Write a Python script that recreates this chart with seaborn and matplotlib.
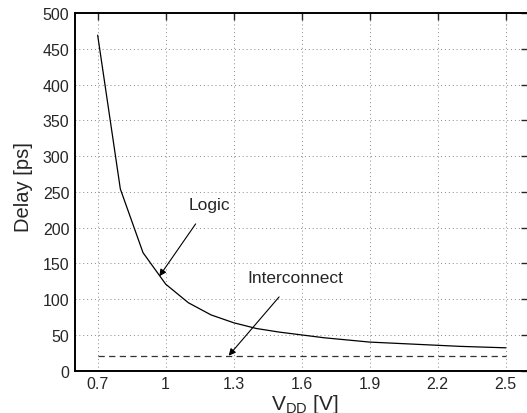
import matplotlib
matplotlib.use('Agg')
import matplotlib.pyplot as plt
import seaborn as sns
import pandas as pd

vdd = [0.7, 0.8, 0.9, 1.0, 1.1, 1.2, 1.3, 1.4, 1.5, 1.6, 1.7, 1.8, 1.9, 2.0, 2.1, 2.2, 2.3, 2.4, 2.5]
logic_delay = [469, 254, 165, 121, 95, 78, 67, 59, 54, 50, 46, 43, 40, 38.5, 37, 35.5, 34, 33, 32]
interconnect_delay = [21] * len(vdd)
xticks = [0.7, 1.0, 1.3, 1.6, 1.9, 2.2, 2.5]
xtick_labels = ['0.7', '1', '1.3', '1.6', '1.9', '2.2', '2.5']
yticks = list(range(0, 501, 50))

df = pd.DataFrame({'VDD': vdd, 'Logic': logic_delay, 'Interconnect': interconnect_delay})

sns.set_style('white')
plt.rcParams['font.family'] = ['Liberation Sans', 'DejaVu Sans']
plt.rcParams['mathtext.fontset'] = 'custom'
plt.rcParams['mathtext.rm'] = 'Liberation Sans'
plt.rcParams['mathtext.it'] = 'Liberation Sans'

fig = plt.figure(figsize=(5.27, 4.14), dpi=100)
ax = fig.add_axes([75 / 527, 1 - 371.7 / 414, 453.4 / 527, 357.7 / 414])

sns.lineplot(data=df, x='VDD', y='Logic', ax=ax, color='black', lw=0.9)
sns.lineplot(data=df, x='VDD', y='Interconnect', ax=ax, color='#333333', lw=0.9, linestyle=(0, (5, 3.5)))

ax.set_xlim(0.6, 2.6)
ax.set_ylim(0, 500)
ax.set_xticks(xticks)
ax.set_xticklabels(xtick_labels)
ax.set_yticks(yticks)
ax.tick_params(direction='in', length=5, width=1, labelsize=11.5, top=True, right=True, pad=4)
ax.grid(True, linestyle=(0, (1, 3)), color='#888888', lw=0.7)
for s in ax.spines.values():
    s.set_linewidth(1.4)
    s.set_color('black')

ax.set_ylabel('Delay [ps]', fontsize=14.5)
ax.yaxis.set_label_coords(-0.093, 0.517)
ax.set_xlabel(r'V$_{\mathrm{DD}}$ [V]', fontsize=15)
ax.xaxis.set_label_coords(0.507, -0.06)

ax.annotate('Logic', xy=(0.972, 132), xytext=(1.193, 233), ha='center', va='center', fontsize=12.5,
            arrowprops=dict(arrowstyle='-|>', color='black', lw=0.8, shrinkA=8, shrinkB=0, mutation_scale=10))
ax.annotate('Interconnect', xy=(1.278, 21), xytext=(1.573, 130), ha='center', va='center', fontsize=12.5,
            arrowprops=dict(arrowstyle='-|>', color='black', lw=0.8, shrinkA=8, shrinkB=0, mutation_scale=10))

fig.savefig('out.png', dpi=100)
